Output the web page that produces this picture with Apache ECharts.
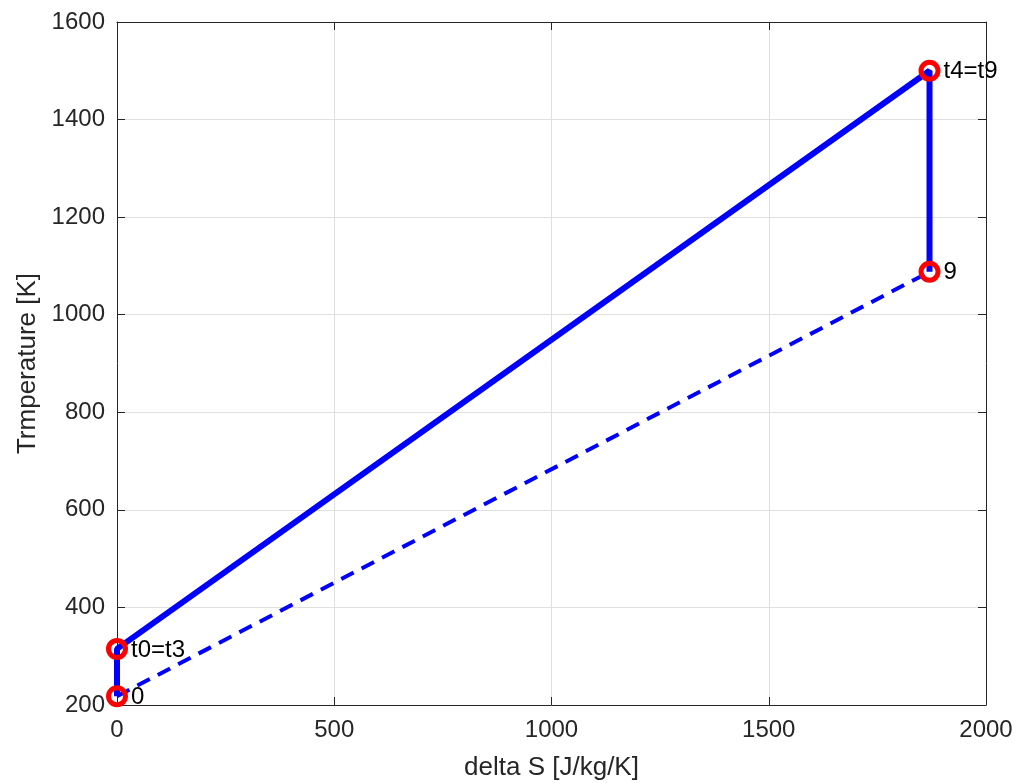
<!DOCTYPE html>
<html>
<head>
<meta charset="utf-8">
<script src="https://cdn.jsdelivr.net/npm/echarts@6/dist/echarts.min.js"></script>
<style>
  html, body { margin:0; padding:0; background:#fff; }
  #chart { width:1017px; height:783px; }
</style>
</head>
<body>
<div id="chart"></div>
<script>
// cycle points (delta S, temperature)
const cycleS = [0, 0, 1870, 1870];
const cycleT = [218, 315, 1500, 1088];
const pointNames = ['0', 't0=t3', 't4=t9', '9'];
// dashed line from point 0 to point 9
const dashS = [0, 1870];
const dashT = [218, 1088];

const xTicks = [0, 500, 1000, 1500, 2000];
const yTicks = [200, 400, 600, 800, 1000, 1200, 1400, 1600];

const font = 'Liberation Sans, Arial, sans-serif';
const axisCol = '#262626';

const chart = echarts.init(document.getElementById('chart'));

const solidData = cycleS.map((s, i) => [s, cycleT[i]]);
const dashData = dashS.map((s, i) => [s, dashT[i]]);

const baseX = {
  type: 'value', min: xTicks[0], max: xTicks[xTicks.length-1], interval: 500,
  axisLine: {show:true, onZero:false, lineStyle:{color:axisCol, width:1}},
  axisTick: {show:true, inside:true, length:8, lineStyle:{color:axisCol}},
  splitLine: {show:false}
};
const baseY = {
  type: 'value', min: yTicks[0], max: yTicks[yTicks.length-1], interval: 200,
  axisLine: {show:true, onZero:false, lineStyle:{color:axisCol, width:1}},
  axisTick: {show:true, inside:true, length:8, lineStyle:{color:axisCol}},
  splitLine: {show:false}
};

chart.setOption({
  animation: false,
  backgroundColor: '#fff',
  grid: {left:117, right:31, top:22, bottom:78, containLabel:false, outerBoundsMode:'none'},
  xAxis: [
    Object.assign({}, baseX, {
      position:'bottom',
      name:'delta S [J/kg/K]', nameLocation:'middle', nameGap:50,
      nameTextStyle:{fontFamily:font, fontSize:26, color:axisCol},
      axisLabel:{fontFamily:font, fontSize:24, color:axisCol, margin:13, formatter: v => String(v)},
      splitLine:{show:true, lineStyle:{color:'#e0e0e0', width:1}}
    }),
    Object.assign({}, baseX, {position:'top', axisLabel:{show:false}})
  ],
  yAxis: [
    Object.assign({}, baseY, {
      position:'left',
      name:'Trmperature [K]', nameLocation:'middle', nameGap:72,
      nameTextStyle:{fontFamily:font, fontSize:26, color:axisCol},
      axisLabel:{fontFamily:font, fontSize:24, color:axisCol, margin:12, formatter: v => String(v)},
      splitLine:{show:true, lineStyle:{color:'#e0e0e0', width:1}}
    }),
    Object.assign({}, baseY, {position:'right', axisLabel:{show:false}})
  ],
  series: [
    {
      type:'line', data: dashData, showSymbol:false, silent:true,
      lineStyle:{color:'#0000ff', width:4, type:[14, 9]},
      z: 2
    },
    {
      type:'line', data: solidData, showSymbol:false, silent:true,
      lineStyle:{color:'#0000ff', width:6},
      z: 3
    },
    {
      type:'scatter', z: 4,
      data: solidData.map((d, i) => ({value:d, name:pointNames[i]})),
      symbol:'circle', symbolSize:17,
      itemStyle:{color:'rgba(0,0,0,0)', borderColor:'#ff0000', borderWidth:5, opacity:1},
      label:{
        show:true, position:'right', distance:3, offset:[0, 1],
        formatter: p => p.name,
        fontFamily:font, fontSize:24, color:'#000'
      }
    }
  ]
});
</script>
</body>
</html>
